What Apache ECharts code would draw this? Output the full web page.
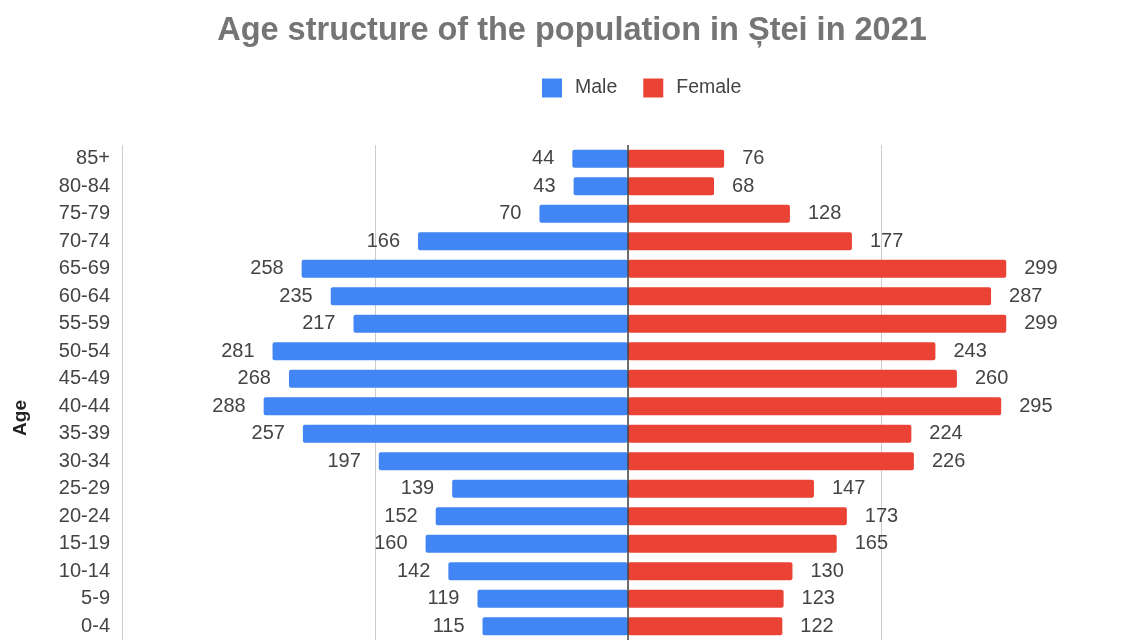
<!DOCTYPE html>
<html>
<head>
<meta charset="utf-8">
<script src="https://cdn.jsdelivr.net/npm/echarts@6/dist/echarts.min.js"></script>
<style>html,body{margin:0;padding:0;background:#fff;overflow:hidden}#c{width:1134px;height:640px}</style>
</head>
<body>
<div id="c"></div>
<script>
const categories = ['85+','80-84','75-79','70-74','65-69','60-64','55-59','50-54','45-49','40-44','35-39','30-34','25-29','20-24','15-19','10-14','5-9','0-4'];
const male = [44,43,70,166,258,235,217,281,268,288,257,197,139,152,160,142,119,115];
const female = [76,68,128,177,299,287,299,243,260,295,224,226,147,173,165,130,123,122];
const xTicks = [-400,-200,0,200,400];

const font = '"Liberation Sans", Arial, sans-serif';
const chart = echarts.init(document.getElementById('c'), null, {renderer:'canvas'});
chart.setOption({
  animation: false,
  textStyle: {fontFamily: font},
  title: {
    text: 'Age structure of the population in Ștei in 2021',
    left: 567, top: 10, textAlign: 'center',
    textStyle: {fontSize: 32.5, fontWeight: 'bold', color: '#757575', fontFamily: font}
  },
  legend: {
    top: 73, left: 537,
    itemWidth: 20, itemHeight: 19, itemGap: 26,
    icon: 'rect',
    textStyle: {fontSize: 19.5, color: '#444', fontFamily: font, padding: [0, 0, 0, 8]},
    data: ['Male','Female']
  },
  graphic: [{
    type: 'text', x: 21, y: 418, rotation: Math.PI/2,
    style: {text: 'Age', fontSize: 19, fontWeight: 'bold', fill: '#222', fontFamily: font, align: 'center', verticalAlign: 'middle'}
  }],
  grid: {left: 122, right: 0, top: 145, bottom: 0, containLabel: false},
  xAxis: {
    type: 'value', min: xTicks[0], max: xTicks[xTicks.length-1], interval: 200,
    axisLabel: {show: false}, axisTick: {show: false}, axisLine: {show: false},
    splitLine: {show: true, lineStyle: {color: '#cccccc', width: 1}}
  },
  yAxis: {
    type: 'category', data: categories, inverse: true,
    axisLine: {show: false, onZero: false}, axisTick: {show: false},
    axisLabel: {fontSize: 20, color: '#444', margin: 12, fontFamily: font}
  },
  series: [
    {
      name: 'Male', type: 'bar', barWidth: 18, barGap: '-100%',
      data: male.map(v => -v),
      itemStyle: {color: '#4285F4', borderRadius: 2},
      label: {show: true, position: 'left', distance: 18, fontSize: 20, color: '#444', fontFamily: font,
        formatter: p => Math.abs(p.value)},
      markLine: {
        silent: true, symbol: 'none', label: {show: false},
        lineStyle: {color: '#444', width: 1.5, type: 'solid'},
        data: [{xAxis: 0}]
      }
    },
    {
      name: 'Female', type: 'bar', barWidth: 18,
      data: female,
      itemStyle: {color: '#EA4335', borderRadius: 2},
      label: {show: true, position: 'right', distance: 18, fontSize: 20, color: '#444', fontFamily: font}
    }
  ]
});
</script>
</body>
</html>
